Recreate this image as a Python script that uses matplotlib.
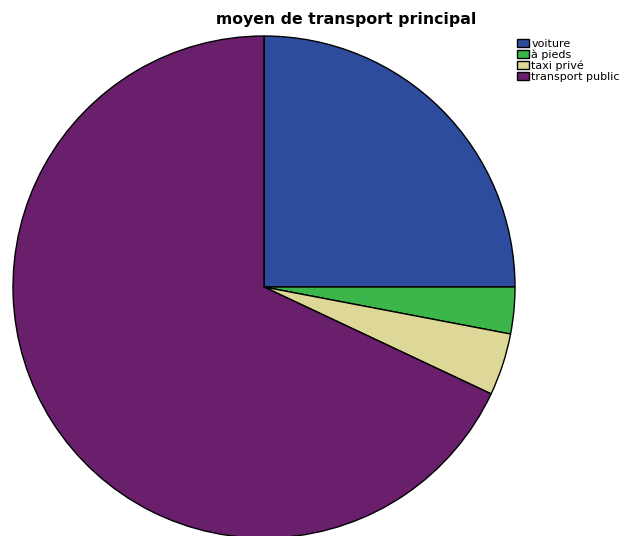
import matplotlib.pyplot as plt

labels = ['voiture', 'à pieds', 'taxi privé', 'transport public']
values = [25.0, 3.0, 4.0, 68.0]
colors = ['#2E4C9E', '#3CB54A', '#DDD898', '#6A1F6C']

fig = plt.figure(figsize=(6.25, 5.36), dpi=100)
ax = fig.add_axes([13/625, -2/536, 502/625, 502/536])
wedges, _ = ax.pie(values, colors=colors, startangle=90, counterclock=False,
                   wedgeprops=dict(edgecolor='black', linewidth=1.0))
ax.set_xlim(-1, 1)
ax.set_ylim(-1, 1)
ax.set_aspect('equal')

fig.text(346/625, 0.963, 'moyen de transport principal', ha='center', va='center',
         fontsize=11.3, fontweight='bold')

fig.legend(wedges, labels, loc='upper left', bbox_to_anchor=(517/625, 1 - 39/536),
           frameon=False, fontsize=8, handlelength=1.05, handleheight=0.75,
           handletextpad=0.25, labelspacing=0.05, borderaxespad=0, borderpad=0)

fig.savefig('out.png', dpi=100)
